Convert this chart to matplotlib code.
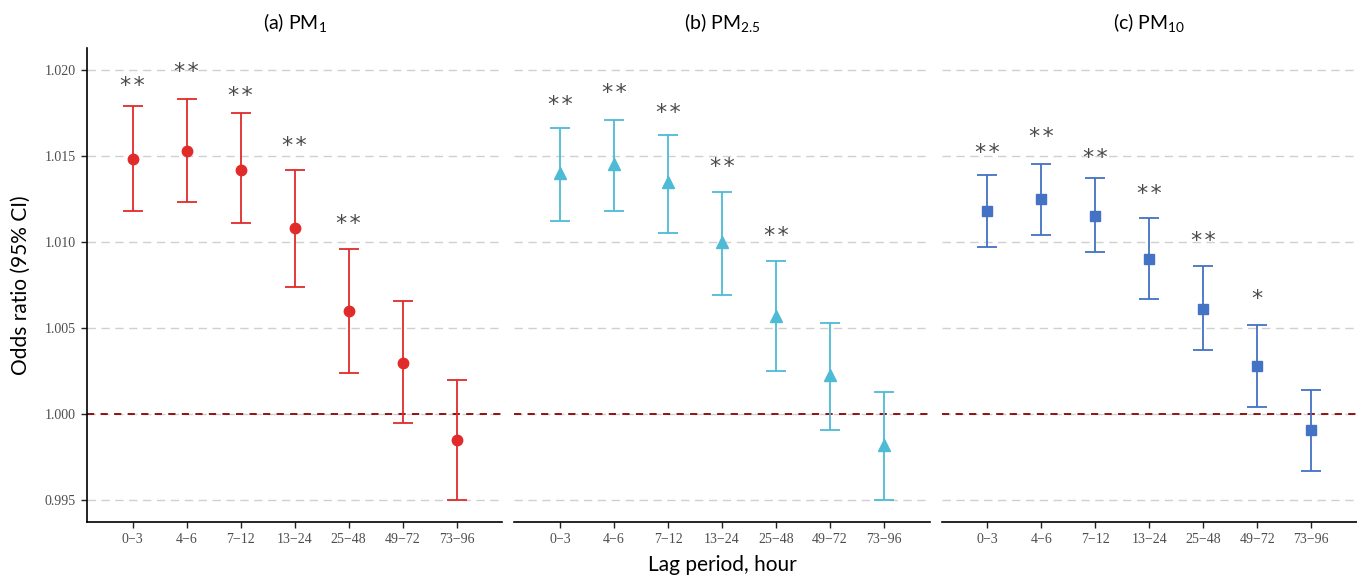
import numpy as np
import matplotlib
matplotlib.use('Agg')
import matplotlib.pyplot as plt
from matplotlib.transforms import offset_copy

# ─── Data ────────────────────────────────────────────────────────────────────
lags = ['0\u22123', '4\u22126', '7\u221212', '13\u221224', '25\u221248', '49\u221272', '73\u221296']

titles = ['(a) PM$_{\\mathrm{1}}$', '(b) PM$_{\\mathrm{2.5}}$', '(c) PM$_{\\mathrm{10}}$']

pm1_or = [1.0148, 1.0153, 1.0142, 1.0108, 1.0060, 1.0030, 0.9985]
pm1_lo = [1.0118, 1.0123, 1.0111, 1.0074, 1.0024, 0.9995, 0.9950]
pm1_hi = [1.0179, 1.0183, 1.0175, 1.0142, 1.0096, 1.0066, 1.0020]
pm1_sig = ['**', '**', '**', '**', '**', '', '']
pm1_sig_y = [1.0193, 1.0201, 1.0187, 1.0158, 1.0113, 0, 0]

pm25_or = [1.0140, 1.0145, 1.0135, 1.0100, 1.0057, 1.0023, 0.9982]
pm25_lo = [1.0112, 1.0118, 1.0105, 1.0069, 1.0025, 0.9991, 0.9950]
pm25_hi = [1.0166, 1.0171, 1.0162, 1.0129, 1.0089, 1.0053, 1.0013]
pm25_sig = ['**', '**', '**', '**', '**', '', '']
pm25_sig_y = [1.0182, 1.0189, 1.0177, 1.0146, 1.0106, 0, 0]

pm10_or = [1.0118, 1.0125, 1.0115, 1.0090, 1.0061, 1.0028, 0.9991]
pm10_lo = [1.0097, 1.0104, 1.0094, 1.0067, 1.0037, 1.0004, 0.9967]
pm10_hi = [1.0139, 1.0145, 1.0137, 1.0114, 1.0086, 1.0052, 1.0014]
pm10_sig = ['**', '**', '**', '**', '**', '*', '']
pm10_sig_y = [1.0154, 1.0163, 1.0151, 1.0130, 1.0103, 1.0069, 0]

yticks = [0.995, 1.000, 1.005, 1.010, 1.015, 1.020]

panels = [
    (pm1_or, pm1_lo, pm1_hi, pm1_sig, pm1_sig_y, '#E12B2B', 'o', 7.5),
    (pm25_or, pm25_lo, pm25_hi, pm25_sig, pm25_sig_y, '#4DBBD5', '^', 8.5),
    (pm10_or, pm10_lo, pm10_hi, pm10_sig, pm10_sig_y, '#4472C4', 's', 7.0),
]

# ─── Style ───────────────────────────────────────────────────────────────────
plt.rcParams['font.family'] = ['Lato', 'DejaVu Sans']
plt.rcParams['mathtext.fontset'] = 'custom'
plt.rcParams['mathtext.rm'] = 'Lato'
plt.rcParams['mathtext.it'] = 'Lato:italic'

W, H = 1357, 577
fig = plt.figure(figsize=(W / 100, H / 100), dpi=100)

left_px, right_px, gap_px = 87, 1357, 12
top_px, bot_px = 48, 522
pw = (right_px - left_px - 2 * gap_px) / 3

x = np.arange(1, len(lags) + 1)

for i, (orv, lo, hi, sig, sig_y, col, mk, ms) in enumerate(panels):
    x0 = left_px + i * (pw + gap_px)
    ax = fig.add_axes([x0 / W, (H - bot_px) / H, pw / W, (bot_px - top_px) / H])

    orv = np.array(orv)
    err = [orv - np.array(lo), np.array(hi) - orv]

    for yv in yticks:
        ax.axhline(yv, color='#D0D0D0', lw=1.0, ls=(0, (6, 4)), zorder=0)
    ax.axhline(1.0, color='#8B0000', lw=1.3, ls=(0, (4, 3.5)), zorder=1)

    ax.errorbar(x, orv, yerr=err, fmt=mk, color=col, ms=ms, mec=col,
                ecolor=col, elinewidth=1.3, capsize=7, capthick=1.3, zorder=3)

    # significance stars (nudged down so the glyph centre sits on sig_y)
    star_tr = offset_copy(ax.transData, fig=fig, x=0, y=-4, units='dots')
    for xi, s, sy in zip(x, sig, sig_y):
        if s:
            ax.text(xi, sy, '\u200a'.join(s), ha='center', va='center',
                    fontsize=16, color='#4A4A4A', fontfamily='DejaVu Sans',
                    transform=star_tr)

    ax.set_xlim(0.154, 7.846)
    ax.set_ylim(0.99375, 1.02125)
    ax.set_xticks(x)
    ax.set_xticklabels(lags, family='Liberation Serif', fontsize=10, color='#4D4D4D')
    ax.tick_params(axis='both', length=4, width=1.0, color='#222222', pad=4)

    for side in ['top', 'right']:
        ax.spines[side].set_visible(False)
    ax.spines['bottom'].set_linewidth(1.2)
    ax.spines['left'].set_linewidth(1.2)

    if i == 0:
        ax.set_yticks(yticks)
        ax.set_yticklabels([f'{v:.3f}' for v in yticks], family='Liberation Serif',
                           fontsize=10, color='#4D4D4D')
        ax.set_ylabel('Odds ratio (95% CI)', fontsize=15, labelpad=10)
    else:
        ax.spines['left'].set_visible(False)
        ax.set_yticks(yticks)
        ax.tick_params(axis='y', left=False, labelleft=False)

    ax.set_title(titles[i], fontsize=14, pad=14)

fig.text((left_px + (right_px - left_px) / 2) / W, 1 - 565 / H, 'Lag period, hour',
         ha='center', va='center', fontsize=15)

plt.savefig('out.png', dpi=100)
